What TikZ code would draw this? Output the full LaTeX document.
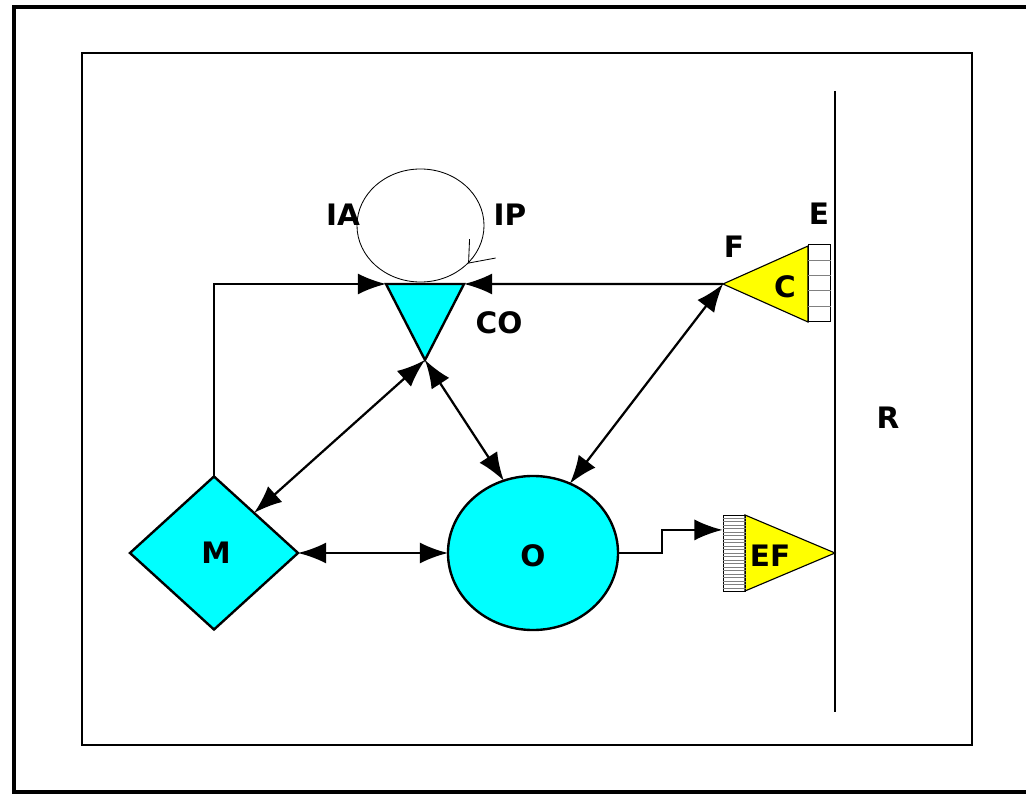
\documentclass[tikz,border=0pt]{standalone}
\usepackage{fontspec}
\setmainfont{DejaVu Sans}
\usetikzlibrary{shapes,shapes.geometric,arrows.meta,calc,positioning}
\definecolor{aqua}{RGB}{0,255,255}
\definecolor{yel}{RGB}{255,255,0}
\tikzset{cyn/.style={draw=black,fill=aqua,line width=1.7pt,inner sep=0pt,outer sep=0pt}}
\tikzset{ylw/.style={draw=black,fill=yel,line width=0.8pt,inner sep=0pt,outer sep=0pt}}
\tikzset{lbl/.style={font=\fontsize{21}{24}\selectfont\bfseries,inner sep=0pt}}
\tikzset{con/.style={line width=1.6pt}}
\tikzset{arr/.style={con,-{Latex[length=20pt,width=15pt]}}}
\tikzset{darr/.style={con,{Latex[length=20pt,width=15pt]}-{Latex[length=20pt,width=15pt]}}}

\begin{document}
\begin{tikzpicture}[x=0.025cm,y=-0.025cm]
\useasboundingbox (0,0) rectangle (1026,794);
% frames
\draw [line width=3.4pt] (1026,7) -- (14,7) -- (14,792) -- (1026,792);
\draw [line width=0.8pt] (82,53) rectangle (972,745);
\draw [line width=1.1pt] (835,91) -- (835,712);
\node [lbl] at (888,418) (R) {R};

% loop on CO
\node [draw,ellipse,line width=0.6pt,minimum width=3.175cm,minimum height=2.825cm] at (420.5,225.5) (loop) {};
\coordinate (tip) at (loop.-38);
\draw [line width=0.6pt] ($(tip)+(1,-24)$) -- (tip) -- ++(27,-5);
\node [lbl] at (343,215) (IA) {IA};
\node [lbl] at (510,215) (IP) {IP};

% shapes
\node [cyn,isosceles triangle,isosceles triangle stretches,shape border rotate=-90,
	minimum width=1.95cm,minimum height=1.9cm,anchor=apex] at (425,360) (CO) {};
\node [lbl] at (499,323) (COt) {CO};
\node [cyn,diamond,minimum width=4.2cm,minimum height=3.825cm] at (214,553) (M) {};
\node [lbl] at (216,553) (Mt) {M};
\node [cyn,ellipse,minimum width=4.25cm,minimum height=3.85cm] at (533,553) (O) {};
\node [lbl] at (533,556) (Ot) {O};

\node [ylw,isosceles triangle,isosceles triangle stretches,shape border rotate=180,
	minimum width=1.9cm,minimum height=2.125cm,anchor=apex] at (723,284) (C) {};
\node [draw,line width=0.7pt,minimum width=0.55cm,minimum height=1.9cm,inner sep=0pt] at (819,283) (Ebox) {};
\foreach \k in {1,...,4}
	\draw [gray] ($(Ebox.north west)!\k/5!(Ebox.south west)$) -- ($(Ebox.north east)!\k/5!(Ebox.south east)$);
\node [lbl] at (785,287) (Ct) {C};
\node [lbl] at (734,247) (F) {F};
\node [lbl] at (819,214) (E) {E};

\node [ylw,isosceles triangle,isosceles triangle stretches,
	minimum width=1.9cm,minimum height=2.25cm,anchor=apex] at (835,553) (EF) {};
\node [draw,line width=0.7pt,minimum width=0.55cm,minimum height=1.9cm,inner sep=0pt] at (734,553) (EFbox) {};
\foreach \k in {1,...,21}
	\draw [gray] ($(EFbox.north west)!\k/22!(EFbox.south west)$) -- ($(EFbox.north east)!\k/22!(EFbox.south east)$);
\node [lbl] at (770,556) (EFt) {EF};

% connectors
\draw [arr] (M.north) |- (CO.right corner);
\draw [arr] (C.apex) -- (CO.left corner);
\draw [darr] (CO.apex) -- (M.45);
\draw [darr] (CO.apex) -- (O.112);
\draw [darr] (C.apex) -- (O.62);
\draw [darr] (M.east) -- (O.west);
\draw [arr] (O.east) -- ++(44,0) |- ($(EFbox.north west)!0.2!(EFbox.south west)$);
\end{tikzpicture}
\end{document}
